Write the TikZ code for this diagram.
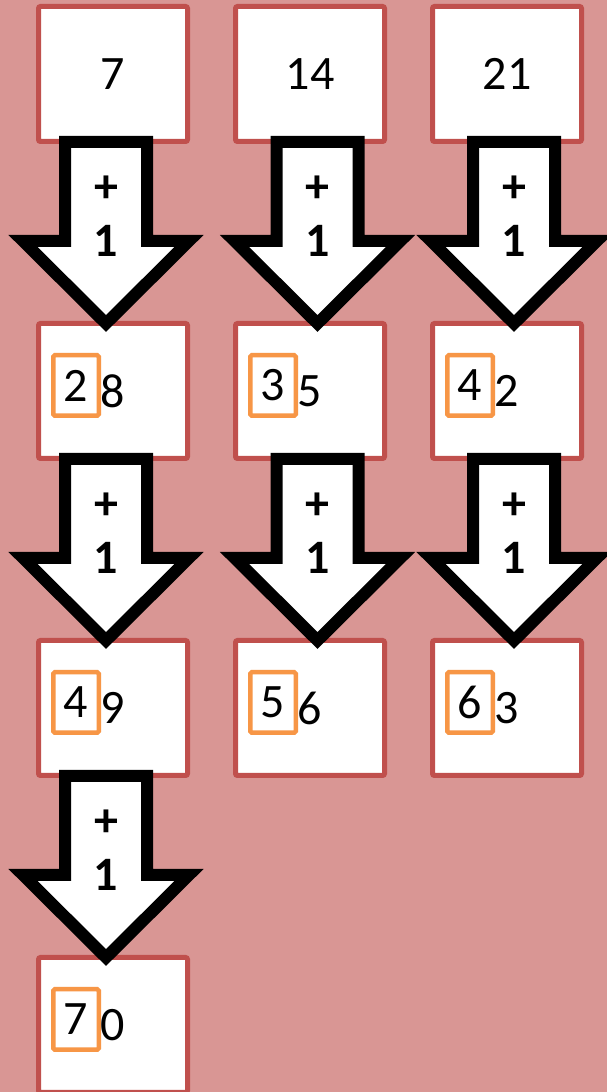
\documentclass[tikz,border=0pt]{standalone}
\usepackage{fontspec}
\setmainfont{Carlito}
\usetikzlibrary{positioning, calc}

\definecolor{bgpink}{HTML}{D99694}
\definecolor{boxred}{HTML}{C0504D}
\definecolor{digitorange}{HTML}{F79646}

% block arrow "+1" from one box down to the next
\newcommand{\plusone}[3]{%
    \draw[blockarrow] ($(#1.south)+(#3-41,2)$) -- ($(#1.south)+(#3+41,2)$)
        -- ($(#1.south)+(#3+41,-97)$) -- ($(#1.south)+(#3+83,-97)$)
        -- ($(#2.north)+(#3,-2.5)$)
        -- ($(#1.south)+(#3-83,-97)$) -- ($(#1.south)+(#3-41,-97)$) -- cycle;
    \node[steplabel] (#1-plus) at ($(#1.south)+(#3,-59)$) {+};
    \node[steplabel] (#1-one) at ($(#1.south)+(#3,-113)$) {1};
}

\begin{document}
\begin{tikzpicture}[
        x=1pt, y=1pt,
        node distance=177pt and 43pt,
        numbox/.style={draw=boxred, fill=white, line width=5pt, rounded corners=2pt,
            minimum width=149pt, minimum height=135pt, inner sep=0pt,
            font=\fontsize{48}{58}\selectfont},
        tensbox/.style={draw=digitorange, line width=4.5pt, rounded corners=1.5pt,
            minimum width=45.5pt, minimum height=60.5pt, inner sep=0pt,
            font=\fontsize{48}{58}\selectfont},
        onesdigit/.style={inner sep=0pt, font=\fontsize{48}{58}\selectfont},
        blockarrow/.style={draw=black, fill=white, line width=12pt, line join=miter},
        steplabel/.style={anchor=base, inner sep=0pt,
            font=\bfseries\fontsize{48}{58}\selectfont}
    ]

    \fill[bgpink] (0,0) rectangle (607,1092);
    \useasboundingbox (0,0) rectangle (607,1092);

    % first row
    \node[numbox] (seven) at (113,1018) {7};
    \node[numbox, right=of seven] (fourteen) {14};
    \node[numbox, right=of fourteen] (twentyone) {21};

    % second row
    \node[numbox, below=of seven] (twentyeight) {};
    \node[numbox, below=of fourteen] (thirtyfive) {};
    \node[numbox, below=of twentyone] (fortytwo) {};

    % third row
    \node[numbox, below=of twentyeight] (fortynine) {};
    \node[numbox, below=of thirtyfive] (fiftysix) {};
    \node[numbox, below=of fortytwo] (sixtythree) {};

    % fourth row
    \node[numbox, below=of fortynine] (seventy) {};

    \foreach \b/\t/\o in {twentyeight/2/8, thirtyfive/3/5, fortytwo/4/2,
            fortynine/4/9, fiftysix/5/6, sixtythree/6/3, seventy/7/0} {
        \node[tensbox] (\b-tens) at ($(\b.north west)+(40,-64.5)$) {\t};
        \node[onesdigit] (\b-ones) at ($(\b.north west)+(77,-70)$) {\o};
    }

    \plusone{seven}{twentyeight}{-7}
    \plusone{fourteen}{thirtyfive}{7.5}
    \plusone{twentyone}{fortytwo}{7}
    \plusone{twentyeight}{fortynine}{-7}
    \plusone{thirtyfive}{fiftysix}{7.5}
    \plusone{fortytwo}{sixtythree}{7}
    \plusone{fortynine}{seventy}{-7}

\end{tikzpicture}
\end{document}
